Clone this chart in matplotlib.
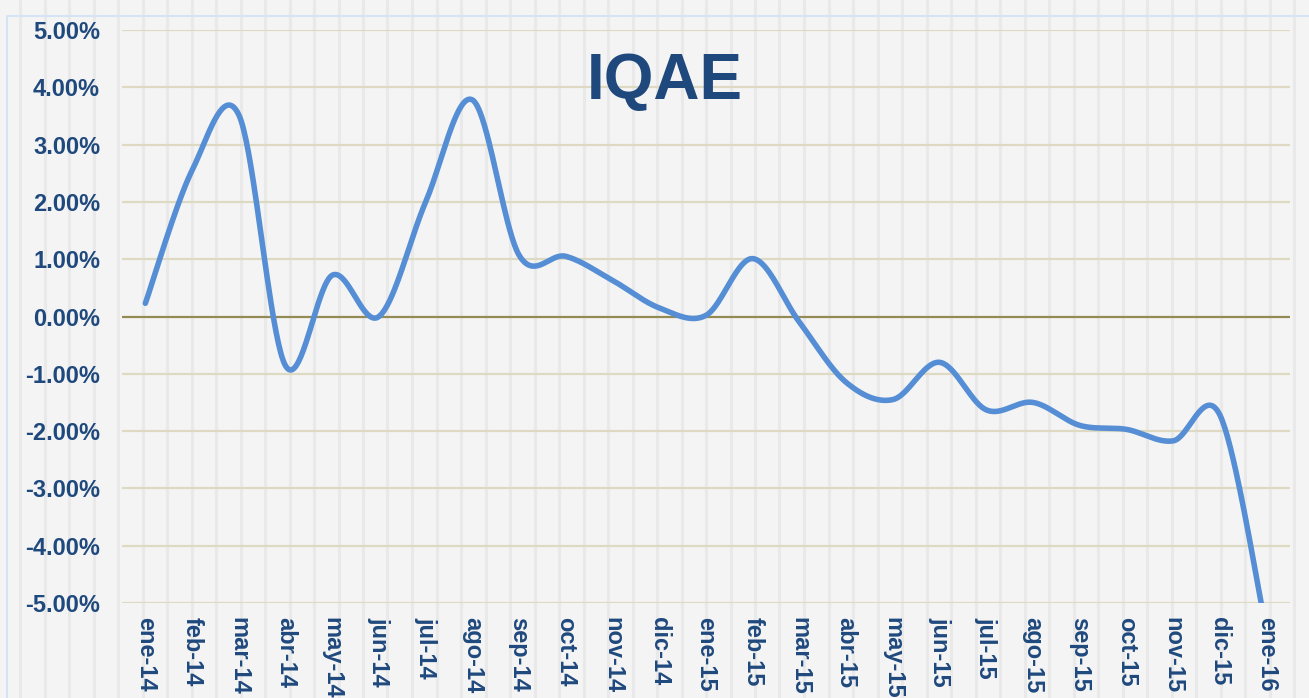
import numpy as np
import matplotlib
matplotlib.use("Agg")
import matplotlib.pyplot as plt
from matplotlib.lines import Line2D

# ---- data ----
months = ["ene-14", "feb-14", "mar-14", "abr-14", "may-14", "jun-14", "jul-14",
          "ago-14", "sep-14", "oct-14", "nov-14", "dic-14", "ene-15", "feb-15",
          "mar-15", "abr-15", "may-15", "jun-15", "jul-15", "ago-15", "sep-15",
          "oct-15", "nov-15", "dic-15", "ene-16"]
iqae = [0.23, 2.55, 3.52, -0.86, 0.72, 0.00, 2.00, 3.78, 1.07, 1.05, 0.63, 0.15,
        0.02, 1.01, -0.10, -1.15, -1.45, -0.80, -1.63, -1.50, -1.90, -1.97,
        -2.17, -1.72, -5.50]
yticks = [5, 4, 3, 2, 1, 0, -1, -2, -3, -4, -5]

TXT = "#1F497D"
LINE = "#558ED5"
GRID = "#DDD9C3"
ZERO = "#948A54"
BG = "#F4F4F4"

plt.rcParams['font.family'] = ['Liberation Sans', 'DejaVu Sans']

fig = plt.figure(figsize=(13.09, 6.98), dpi=100, facecolor=BG)
W, H = 1309, 698

# background vertical stripes (slide texture)
for xs in np.arange(20, W, 24.5):
    fig.add_artist(Line2D([xs / W, xs / W], [0, 1], transform=fig.transFigure,
                          color="#E9E9E9", lw=2.2, zorder=0))
# chart border
fig.add_artist(Line2D([7 / W, 7 / W, 1], [0, 1 - 16 / H, 1 - 16 / H],
                      transform=fig.transFigure, color="#D5E3F5", lw=1.5, zorder=1))

ax = fig.add_axes([122 / W, 1 - 603 / H, (1290 - 122) / W, (603 - 30) / H])
ax.set_facecolor("none")

x = np.arange(len(months), dtype=float)
y = np.array(iqae, dtype=float)

# Excel-style smoothed line (cubic Bezier through the points)
def bezier_smooth(xp, yp, n=40):
    P = np.column_stack([xp, yp])
    Pext = np.vstack([P[0], P, P[-1]])
    out = []
    for i in range(len(P) - 1):
        p0, p1, p2, p3 = Pext[i], Pext[i + 1], Pext[i + 2], Pext[i + 3]
        c1 = p1 + (p2 - p0) / 6.0
        c2 = p2 - (p3 - p1) / 6.0
        t = np.linspace(0, 1, n)[:, None]
        seg = ((1 - t) ** 3) * p1 + 3 * ((1 - t) ** 2) * t * c1 + 3 * (1 - t) * t ** 2 * c2 + t ** 3 * p2
        out.append(seg if i == 0 else seg[1:])
    s = np.vstack(out)
    return s[:, 0], s[:, 1]

sx, sy = bezier_smooth(x, y)

for v in yticks:
    if v == 0:
        continue
    ax.axhline(v, color=GRID, lw=1.6, zorder=1)
ax.axhline(0, color=ZERO, lw=1.6, zorder=2)

ax.plot(sx, sy, color=LINE, lw=4.0, solid_capstyle="round", zorder=3)

ax.set_xlim(-0.5, len(months) - 0.5)
ax.set_ylim(-5, 5)
ax.set_yticks(yticks)
ax.set_yticklabels([f"{v:.2f}%" for v in yticks])
ax.set_xticks(x)
ax.set_xticklabels(months, rotation=-90, ha="center", va="top")

for lab in ax.get_yticklabels() + ax.get_xticklabels():
    lab.set_fontweight("bold")
    lab.set_color(TXT)
    lab.set_fontsize(17)

ax.tick_params(axis="y", length=0, pad=15.8)
ax.tick_params(axis="x", length=0, pad=10)
for sp in ax.spines.values():
    sp.set_visible(False)

ax.text(0.465, 0.91, "IQAE", transform=ax.transAxes, ha="center", va="center",
        fontsize=46, fontweight="bold", color=TXT, zorder=4)

fig.savefig("out.png", dpi=100, facecolor=BG)
